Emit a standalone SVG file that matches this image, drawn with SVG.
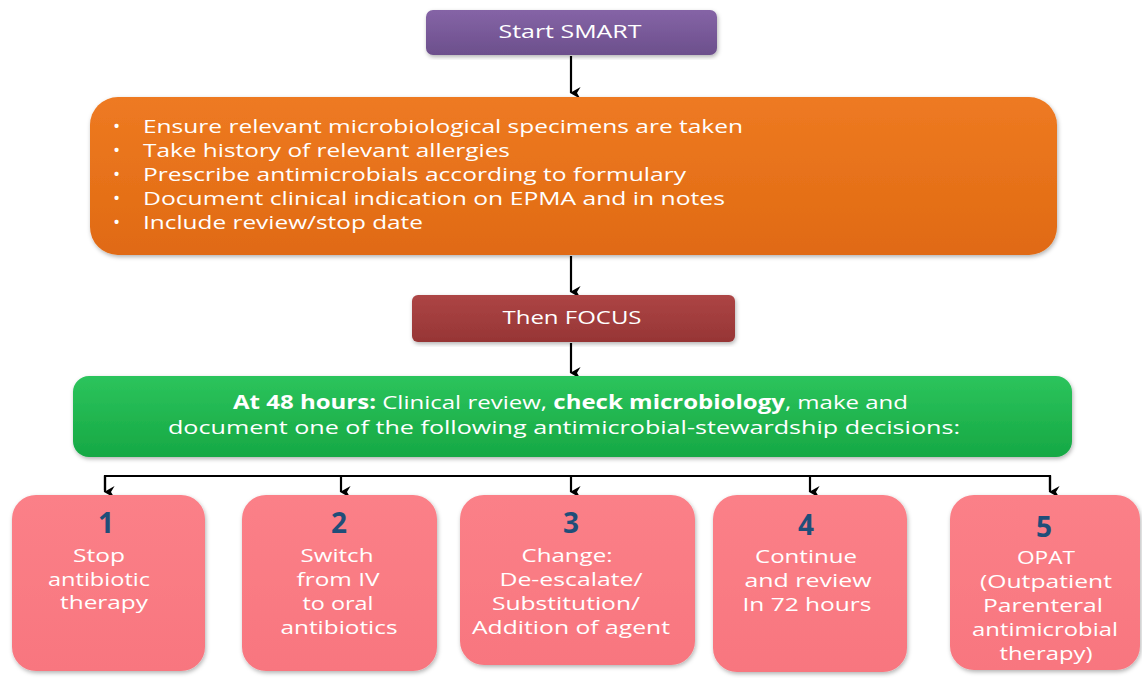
<svg xmlns="http://www.w3.org/2000/svg" width="1142" height="678" viewBox="0 0 1142 678">
<defs>
<linearGradient id="gPurple" x1="0" y1="0" x2="0" y2="1"><stop offset="0" stop-color="#8564a6"/><stop offset="1" stop-color="#6c4f8c"/></linearGradient>
<linearGradient id="gOrange" x1="0" y1="0" x2="0" y2="1"><stop offset="0" stop-color="#ee7a22"/><stop offset="1" stop-color="#e06a12"/></linearGradient>
<linearGradient id="gRed" x1="0" y1="0" x2="0" y2="1"><stop offset="0" stop-color="#ad4545"/><stop offset="1" stop-color="#963535"/></linearGradient>
<linearGradient id="gGreen" x1="0" y1="0" x2="0" y2="1"><stop offset="0" stop-color="#2cc45c"/><stop offset="1" stop-color="#16a844"/></linearGradient>
<linearGradient id="gPink" x1="0" y1="0" x2="0" y2="1"><stop offset="0" stop-color="#fb8088"/><stop offset="1" stop-color="#f8767f"/></linearGradient>
<filter id="sh" x="-5%" y="-5%" width="110%" height="115%"><feDropShadow dx="1" dy="2" stdDeviation="2" flood-color="#000" flood-opacity="0.3"/></filter>
<marker id="arr" viewBox="0 0 10 10" refX="5" refY="9" markerWidth="12" markerHeight="12" markerUnits="userSpaceOnUse" orient="auto-start-reverse"><path d="M0,1 L5,10 L10,1 L5,4 Z" fill="#000"/></marker>
</defs>
<style>
text{font-family:"Open Sans","Liberation Sans",sans-serif;fill:#fff}
.t{font-size:19px}
.b{font-size:18px}
.c{text-anchor:middle}
.num{font-size:28px;font-weight:bold;fill:#1f4e79;text-anchor:middle}
.ln{stroke:#000;stroke-width:2.2;fill:none}
</style>
<rect width="1142" height="678" fill="#fff"/>
<g id="connectors">
<line class="ln" x1="571" y1="56" x2="571" y2="93" marker-end="url(#arr)"/>
<line class="ln" x1="571" y1="256" x2="571" y2="292" marker-end="url(#arr)"/>
<line class="ln" x1="571" y1="343" x2="571" y2="373" marker-end="url(#arr)"/>
<polyline class="ln" points="105,490 105,476 1050,476 1050,490"/>
<line class="ln" x1="105" y1="476" x2="105" y2="492" marker-end="url(#arr)"/>
<line class="ln" x1="341" y1="476" x2="341" y2="492" marker-end="url(#arr)"/>
<line class="ln" x1="571" y1="476" x2="571" y2="492" marker-end="url(#arr)"/>
<line class="ln" x1="810" y1="476" x2="810" y2="492" marker-end="url(#arr)"/>
<line class="ln" x1="1050" y1="476" x2="1050" y2="492" marker-end="url(#arr)"/>
</g>
<g id="start">
<rect x="426" y="10" width="291" height="45" rx="7" fill="url(#gPurple)" filter="url(#sh)"/>
<text class="t c" x="570" y="38" textLength="143" lengthAdjust="spacingAndGlyphs">Start SMART</text>
</g>
<g id="smart">
<rect x="90" y="97" width="967" height="158" rx="28" fill="url(#gOrange)" filter="url(#sh)"/>
<g class="t">
<text x="113" y="133">•</text><text x="143" y="133" textLength="600" lengthAdjust="spacingAndGlyphs">Ensure relevant microbiological specimens are taken</text>
<text x="113" y="157">•</text><text x="143" y="157" textLength="367" lengthAdjust="spacingAndGlyphs">Take history of relevant allergies</text>
<text x="113" y="181">•</text><text x="143" y="181" textLength="543" lengthAdjust="spacingAndGlyphs">Prescribe antimicrobials according to formulary</text>
<text x="113" y="205">•</text><text x="143" y="205" textLength="582" lengthAdjust="spacingAndGlyphs">Document clinical indication on EPMA and in notes</text>
<text x="113" y="229">•</text><text x="143" y="229" textLength="280" lengthAdjust="spacingAndGlyphs">Include review/stop date</text>
</g>
</g>
<g id="focus">
<rect x="412" y="295" width="323" height="47" rx="6" fill="url(#gRed)" filter="url(#sh)"/>
<text class="t c" x="572" y="324" textLength="139" lengthAdjust="spacingAndGlyphs">Then FOCUS</text>
</g>
<g id="review">
<rect x="73" y="376" width="999" height="81" rx="16" fill="url(#gGreen)" filter="url(#sh)"/>
<text class="t" x="233" y="409" textLength="675" lengthAdjust="spacingAndGlyphs"><tspan font-weight="bold">At 48 hours:</tspan> Clinical review, <tspan font-weight="bold">check microbiology</tspan>,  make and</text>
<text class="t" x="168" y="434" textLength="792" lengthAdjust="spacingAndGlyphs">document one of the following antimicrobial-stewardship  decisions:</text>
</g>
<g id="opt1">
<rect x="12" y="495" width="193" height="176" rx="24" fill="url(#gPink)" filter="url(#sh)"/>
<text class="num" x="106" y="533">1</text>
<text class="b c" x="99" y="562" textLength="52" lengthAdjust="spacingAndGlyphs">Stop</text>
<text class="b c" x="99" y="586" textLength="102" lengthAdjust="spacingAndGlyphs">antibiotic</text>
<text class="b c" x="104" y="609" textLength="88" lengthAdjust="spacingAndGlyphs">therapy</text>
</g>
<g id="opt2">
<rect x="242" y="495" width="195" height="176" rx="24" fill="url(#gPink)" filter="url(#sh)"/>
<text class="num" x="339" y="533">2</text>
<text class="b c" x="337" y="562" textLength="73" lengthAdjust="spacingAndGlyphs">Switch</text>
<text class="b c" x="338" y="586" textLength="83" lengthAdjust="spacingAndGlyphs">from IV</text>
<text class="b c" x="338" y="610" textLength="71" lengthAdjust="spacingAndGlyphs">to oral</text>
<text class="b c" x="339" y="634" textLength="117" lengthAdjust="spacingAndGlyphs">antibiotics</text>
</g>
<g id="opt3">
<rect x="460" y="495" width="235" height="170" rx="24" fill="url(#gPink)" filter="url(#sh)"/>
<text class="num" x="571" y="533">3</text>
<text class="b c" x="567" y="562" textLength="91" lengthAdjust="spacingAndGlyphs">Change:</text>
<text class="b c" x="571" y="586" textLength="143" lengthAdjust="spacingAndGlyphs">De-escalate/</text>
<text class="b c" x="566" y="610" textLength="148" lengthAdjust="spacingAndGlyphs">Substitution/</text>
<text class="b c" x="571" y="634" textLength="198" lengthAdjust="spacingAndGlyphs">Addition of agent</text>
</g>
<g id="opt4">
<rect x="713" y="495" width="194" height="177" rx="24" fill="url(#gPink)" filter="url(#sh)"/>
<text class="num" x="806" y="535">4</text>
<text class="b c" x="806" y="563" textLength="102" lengthAdjust="spacingAndGlyphs">Continue</text>
<text class="b c" x="808" y="587" textLength="127" lengthAdjust="spacingAndGlyphs">and review</text>
<text class="b c" x="807" y="611" textLength="129" lengthAdjust="spacingAndGlyphs">In 72 hours</text>
</g>
<g id="opt5">
<rect x="950" y="495" width="190" height="175" rx="24" fill="url(#gPink)" filter="url(#sh)"/>
<text class="num" x="1044" y="537">5</text>
<text class="b c" x="1046" y="564" textLength="58" lengthAdjust="spacingAndGlyphs">OPAT</text>
<text class="b c" x="1046" y="588" textLength="132" lengthAdjust="spacingAndGlyphs">(Outpatient</text>
<text class="b c" x="1043" y="612" textLength="120" lengthAdjust="spacingAndGlyphs">Parenteral</text>
<text class="b c" x="1045" y="636" textLength="146" lengthAdjust="spacingAndGlyphs">antimicrobial</text>
<text class="b c" x="1046" y="660" textLength="93" lengthAdjust="spacingAndGlyphs">therapy)</text>
</g>
</svg>
